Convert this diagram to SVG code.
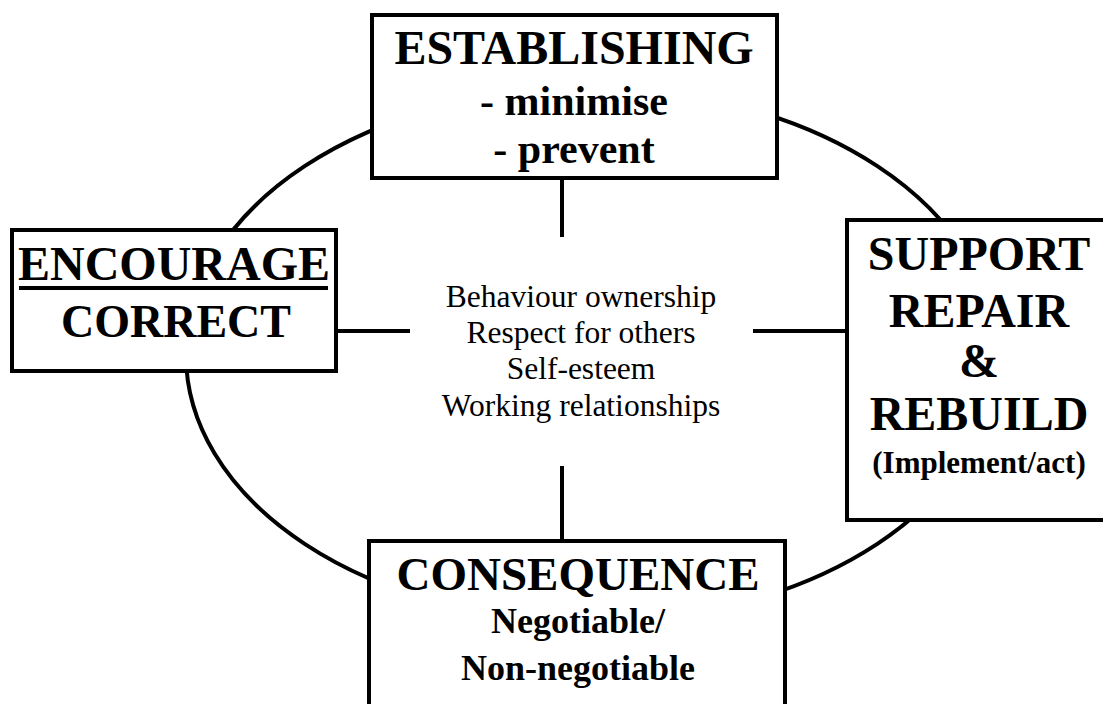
<svg xmlns="http://www.w3.org/2000/svg" width="1103" height="704" viewBox="0 0 1103 704">
<style>
.box{fill:#fff;stroke:#000;stroke-width:4}
.ln{stroke:#000;stroke-width:4;fill:none}
.b{font-family:"Liberation Serif","Times New Roman",serif;font-weight:bold;fill:#000;text-anchor:middle}
.r{font-family:"Liberation Serif","Times New Roman",serif;fill:#000;text-anchor:middle;font-size:31.5px}
</style>
<rect width="1103" height="704" fill="#fff"/>
<g id="connectors">
<ellipse class="ln" cx="591" cy="355" rx="405" ry="267"/>
<line class="ln" x1="562" y1="178" x2="562" y2="237"/>
<line class="ln" x1="336" y1="331" x2="410" y2="331"/>
<line class="ln" x1="753" y1="331" x2="847" y2="331"/>
<line class="ln" x1="562" y1="466" x2="562" y2="541"/>
</g>
<g id="center">
<text class="r" x="581" y="307">Behaviour ownership</text>
<text class="r" x="581" y="343">Respect for others</text>
<text class="r" x="581" y="379">Self-esteem</text>
<text class="r" x="581" y="416">Working relationships</text>
</g>
<g id="establishing">
<rect class="box" x="372" y="15" width="405" height="163"/>
<text class="b" x="574" y="64" font-size="48">ESTABLISHING</text>
<text class="b" x="574" y="115" font-size="42">- minimise</text>
<text class="b" x="574" y="163" font-size="42">- prevent</text>
</g>
<g id="encourage">
<rect class="box" x="12" y="230" width="324" height="141"/>
<text class="b" x="174" y="280" font-size="48">ENCOURAGE</text>
<line x1="19" y1="288" x2="328" y2="288" stroke="#000" stroke-width="4"/>
<text class="b" x="176" y="337" font-size="46">CORRECT</text>
</g>
<g id="support">
<rect class="box" x="847" y="220" width="270" height="300"/>
<text class="b" x="979" y="270" font-size="48">SUPPORT</text>
<text class="b" x="979" y="327" font-size="48">REPAIR</text>
<text class="b" x="979" y="377" font-size="48">&amp;</text>
<text class="b" x="979" y="430" font-size="48">REBUILD</text>
<text class="b" x="979" y="473" font-size="31">(Implement/act)</text>
</g>
<g id="consequence">
<rect class="box" x="369" y="541" width="416" height="175"/>
<text class="b" x="578" y="590" font-size="47">CONSEQUENCE</text>
<text class="b" x="578" y="633" font-size="36">Negotiable/</text>
<text class="b" x="578" y="680" font-size="36">Non-negotiable</text>
</g>
</svg>
